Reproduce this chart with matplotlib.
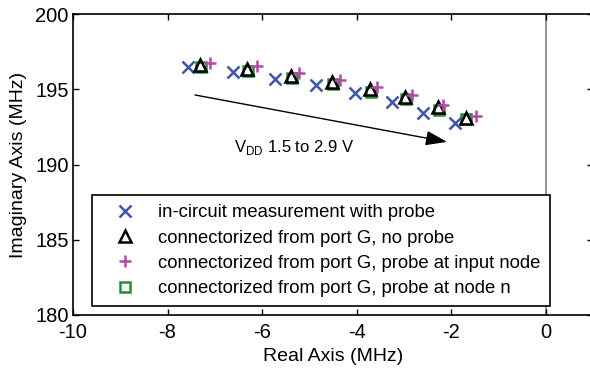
import matplotlib
matplotlib.use("Agg")
import matplotlib.pyplot as plt

plt.rcParams['font.family'] = ['Liberation Sans', 'DejaVu Sans']
plt.rcParams['axes.unicode_minus'] = False

# data (MHz)
x_meas = [-7.57, -6.62, -5.73, -4.86, -4.04, -3.26, -2.60, -1.92]
y_meas = [196.48, 196.15, 195.68, 195.28, 194.75, 194.15, 193.42, 192.76]

x_noprobe = [-7.31, -6.32, -5.39, -4.52, -3.72, -2.98, -2.28, -1.69]
y_noprobe = [196.60, 196.35, 195.90, 195.50, 195.00, 194.50, 193.80, 193.10]

x_input = [-7.10, -6.11, -5.22, -4.36, -3.57, -2.83, -2.18, -1.48]
y_input = [196.74, 196.54, 196.08, 195.61, 195.15, 194.62, 193.95, 193.22]

x_noden = [-7.29, -6.30, -5.37, -4.50, -3.70, -2.96, -2.26, -1.69]
y_noden = [196.45, 196.20, 195.75, 195.35, 194.85, 194.35, 193.65, 193.00]

labels = ["in-circuit measurement with probe",
          "connectorized from port G, no probe",
          "connectorized from port G, probe at input node",
          "connectorized from port G, probe at node n"]

xticks = [-10, -8, -6, -4, -2, 0]
yticks = [180, 185, 190, 195, 200]

W, H = 590, 371
fig = plt.figure(figsize=(W / 100, H / 100), dpi=100)
ax = fig.add_axes([73 / W, 1 - 315 / H, (593 - 73) / W, (315 - 14) / H])

ax.axvline(0, color='#808080', lw=1.2, zorder=1)

blue = '#3f55a8'
mag = '#b549a8'
green = '#2a8a3a'

h1, = ax.plot(x_meas, y_meas, 'x', ls='none', color=blue, ms=9, mew=1.8, zorder=4)
h4, = ax.plot(x_noden, y_noden, 's', ls='none', mfc='none', mec=green, ms=7.5, mew=1.8, zorder=3)
h2, = ax.plot(x_noprobe, y_noprobe, '^', ls='none', mfc='none', mec='black', ms=8.5, mew=1.8, zorder=5)
h3, = ax.plot(x_input, y_input, '+', ls='none', color=mag, ms=9, mew=1.8, zorder=6)

ax.annotate('', xy=(-2.09, 191.5), xytext=(-7.42, 194.62),
            arrowprops=dict(arrowstyle='-|>,head_length=1.3,head_width=0.45',
                            color='black', lw=1.0, shrinkA=0, shrinkB=0))
ax.text(-6.6, 191.1, r'V$_{\mathregular{DD}}$ 1.5 to 2.9 V', fontsize=12,
        ha='left', va='center')

ax.set_xlim(-10, 1)
ax.set_ylim(180, 200)
ax.set_xticks(xticks)
ax.set_yticks(yticks)
ax.tick_params(direction='in', top=True, right=True, labelsize=14.5, length=4, width=1)
ax.tick_params(axis='x', pad=6)
ax.tick_params(axis='y', pad=3)
for s in ax.spines.values():
    s.set_linewidth(1.2)
ax.set_xlabel('Real Axis (MHz)', fontsize=14, labelpad=4)
ax.set_ylabel('Imaginary Axis (MHz)', fontsize=14, labelpad=6)

leg = ax.legend([h1, h2, h3, h4], labels, loc='upper left',
                bbox_to_anchor=(92 / W, 1 - 195 / H), bbox_transform=fig.transFigure,
                borderaxespad=0, fancybox=False, framealpha=1, edgecolor='black',
                fontsize=13.3, handlelength=2.6, handletextpad=0.5,
                labelspacing=0.45, borderpad=0.5)
leg.get_frame().set_linewidth(1.2)
leg.set_zorder(10)

fig.savefig('out.png', dpi=100)
